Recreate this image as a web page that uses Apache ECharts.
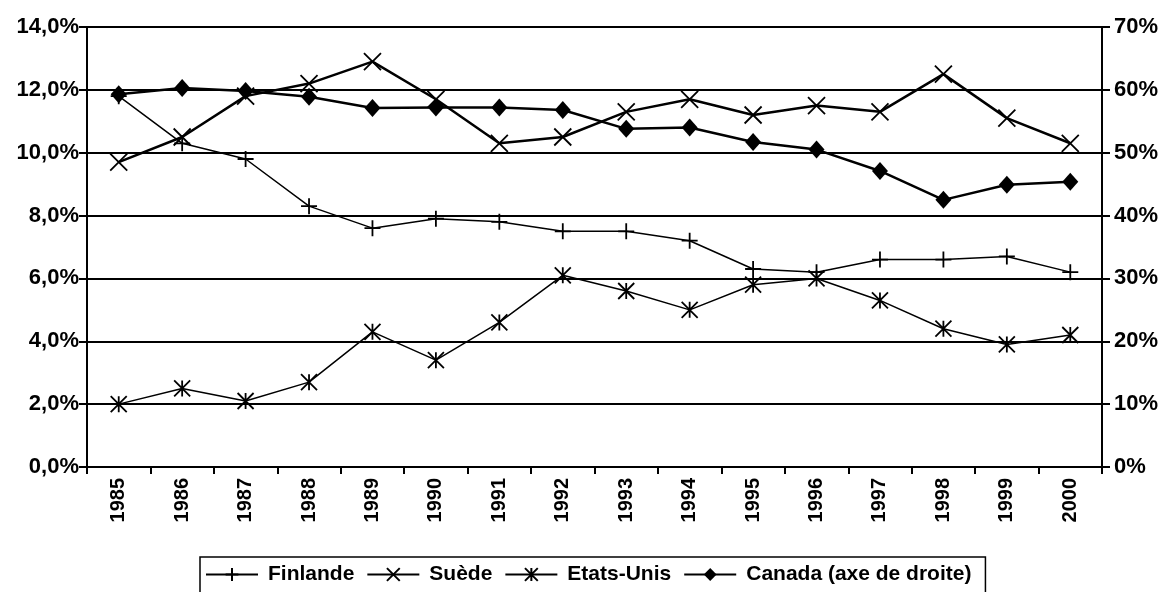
<!DOCTYPE html>
<html>
<head>
<meta charset="utf-8">
<script src="https://cdn.jsdelivr.net/npm/echarts@6/dist/echarts.min.js"></script>
<style>
  html, body { margin: 0; padding: 0; background: #fff; }
  #main { width: 1169px; height: 592px; }
</style>
</head>
<body>
<div id="main"></div>
<script>
// annees
const years = ['1985','1986','1987','1988','1989','1990','1991','1992','1993','1994','1995','1996','1997','1998','1999','2000']
// axe de gauche (%)
const finlande = [11.8, 10.3, 9.8, 8.3, 7.6, 7.9, 7.8, 7.5, 7.5, 7.2, 6.3, 6.2, 6.6, 6.6, 6.7, 6.2]
const suede = [9.7, 10.5, 11.8, 12.2, 12.9, 11.7, 10.3, 10.5, 11.3, 11.7, 11.2, 11.5, 11.3, 12.5, 11.1, 10.3]
const etatsUnis = [2.0, 2.5, 2.1, 2.7, 4.3, 3.4, 4.6, 6.1, 5.6, 5.0, 5.8, 6.0, 5.3, 4.4, 3.9, 4.2]
// axe de droite (%)
const canada = [59.3, 60.3, 59.8, 58.9, 57.1, 57.2, 57.2, 56.8, 53.8, 54.0, 51.7, 50.5, 47.1, 42.5, 44.9, 45.4]

const font = 'Liberation Sans, Arial, sans-serif'
const plus = 'path://M5,0L5,10M0,5L10,5'
const cross = 'path://M0,0L10,10M10,0L0,10'
const star = 'path://M0,0L10,10M10,0L0,10M5,0L5,10'

const chart = echarts.init(document.getElementById('main'))

function strokeSeries(name, data, symbol, size, width) {
  return {
    name: name,
    type: 'line',
    data: data,
    symbol: symbol,
    symbolSize: size,
    showAllSymbol: true,
    lineStyle: { color: '#000', width: width },
    itemStyle: { color: 'rgba(0,0,0,0)', borderColor: '#000', borderWidth: 1.8 },
    emphasis: { disabled: true }
  }
}

chart.setOption({
  animation: false,
  grid: { left: 87, right: 67, top: 27, bottom: 125 },
  legend: {
    left: 200,
    top: 557,
    padding: [7, 14, 14, 5],
    itemWidth: 52,
    itemHeight: 16,
    itemGap: 12,
    borderColor: '#000',
    borderWidth: 1.5,
    textStyle: { fontFamily: font, fontSize: 21, fontWeight: 'bold', color: '#000', padding: [0, 0, 0, 5] },
    data: ['Finlande', 'Suède', 'Etats-Unis', 'Canada (axe de droite)']
  },
  xAxis: {
    type: 'category',
    data: years,
    boundaryGap: true,
    axisLine: { lineStyle: { color: '#000', width: 2 } },
    axisTick: { show: true, interval: 0, length: 7, lineStyle: { color: '#000', width: 2 } },
    axisLabel: { interval: 0, rotate: 90, margin: 11, color: '#000', fontFamily: font, fontSize: 20, fontWeight: 'bold' }
  },
  yAxis: [{
    type: 'value',
    min: 0, max: 14, interval: 2,
    axisLine: { show: true, lineStyle: { color: '#000', width: 2 } },
    axisTick: { show: true, length: 8, lineStyle: { color: '#000', width: 2 } },
    splitLine: { show: true, lineStyle: { color: '#000', width: 2 } },
    axisLabel: {
      color: '#000', fontFamily: font, fontSize: 22, fontWeight: 'bold', margin: 8,
      formatter: v => v.toFixed(1).replace('.', ',') + '%'
    }
  }, {
    type: 'value',
    position: 'right',
    min: 0, max: 70, interval: 10,
    axisLine: { show: true, lineStyle: { color: '#000', width: 2 } },
    axisTick: { show: true, length: 8, lineStyle: { color: '#000', width: 2 } },
    splitLine: { show: false },
    axisLabel: {
      color: '#000', fontFamily: font, fontSize: 22, fontWeight: 'bold', margin: 12,
      formatter: v => v + '%'
    }
  }],
  series: [
    strokeSeries('Finlande', finlande, plus, 16, 1.5),
    strokeSeries('Suède', suede, cross, 17, 2.5),
    strokeSeries('Etats-Unis', etatsUnis, star, 16, 1.5),
    {
      name: 'Canada (axe de droite)',
      type: 'line',
      yAxisIndex: 1,
      data: canada,
      symbol: 'diamond',
      symbolSize: [16, 18],
      showAllSymbol: true,
      lineStyle: { color: '#000', width: 2.5 },
      itemStyle: { color: '#000' },
      emphasis: { disabled: true }
    }
  ]
})
</script>
</body>
</html>
